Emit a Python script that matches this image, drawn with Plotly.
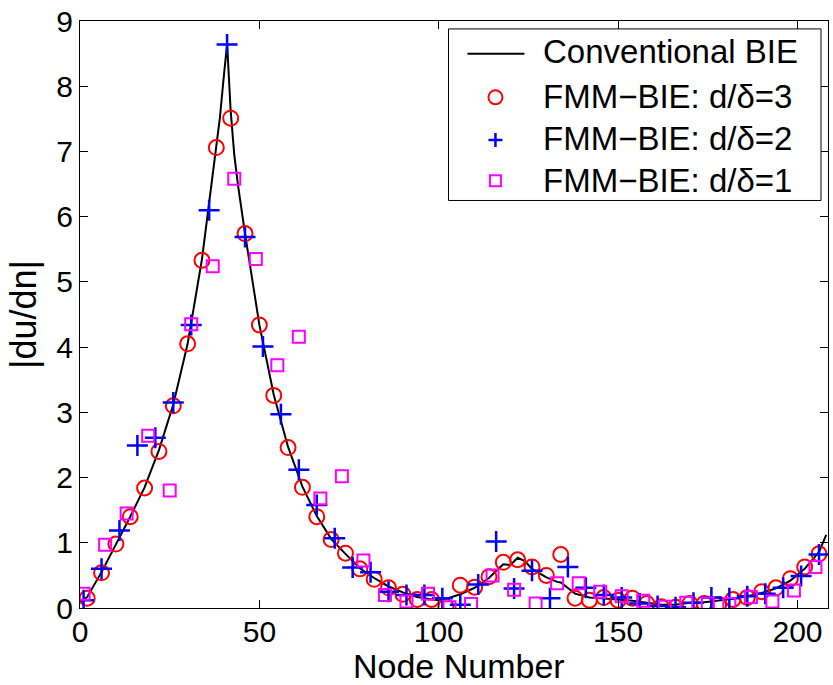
import plotly.graph_objects as go

# Conventional BIE (solid line)
line_x = [0, 2, 6, 10, 14, 18, 22, 26, 30, 34, 38, 39, 40, 41, 42, 43, 44, 46, 50, 54, 58, 62, 66,
          70, 74, 78, 82, 86, 90, 94, 98, 100, 102, 106, 110, 114, 117, 118, 120, 122, 124, 126, 130,
          133, 134, 136, 138, 142, 146, 150, 154, 158, 162, 166, 170, 174, 178, 182, 186, 190, 194,
          198, 202, 206, 208]
line_y = [0.08, 0.17, 0.55, 0.97, 1.40, 1.85, 2.42, 3.12, 4.05, 5.35, 7.05, 7.52, 8.10, 8.65, 7.62,
          6.95, 6.50, 5.74, 4.34, 3.27, 2.47, 1.86, 1.41, 1.06, 0.83, 0.61, 0.46, 0.33, 0.24, 0.17,
          0.13, 0.12, 0.14, 0.21, 0.31, 0.46, 0.62, 0.67, 0.66, 0.77, 0.72, 0.60, 0.47, 0.40, 0.39,
          0.30, 0.22, 0.16, 0.15, 0.13, 0.11, 0.08, 0.05, 0.05, 0.08, 0.09, 0.11, 0.14, 0.18, 0.23,
          0.30, 0.42, 0.60, 0.86, 1.12]

# FMM-BIE d/delta = 3 (red circles)
fmm3_x = [2, 6, 10, 14, 18, 22, 26, 30, 34, 38, 42, 46, 50, 54, 58, 62, 66, 70, 74, 78, 82, 86, 90,
          94, 98, 102, 106, 110, 114, 118, 122, 126, 130, 134, 138, 142, 146, 150, 154, 158, 162,
          166, 170, 174, 178, 182, 186, 190, 194, 198, 202, 206]
fmm3_y = [0.15, 0.54, 0.98, 1.40, 1.84, 2.40, 3.10, 4.05, 5.33, 7.06, 7.51, 5.74, 4.34, 3.26, 2.46,
          1.85, 1.40, 1.05, 0.84, 0.60, 0.44, 0.31, 0.21, 0.13, 0.13, 0.02, 0.35, 0.32, 0.48, 0.70,
          0.74, 0.63, 0.50, 0.82, 0.15, 0.12, 0.16, 0.12, 0.15, 0.07, 0.02, 0.01, 0.07, 0.07, 0.05,
          0.13, 0.16, 0.25, 0.31, 0.45, 0.63, 0.83]

# FMM-BIE d/delta = 2 (blue plus)
fmm2_x = [1, 6, 11, 16, 21, 26, 31, 36, 41, 46, 51, 56, 61, 66, 71, 76, 81, 86, 91, 96, 101, 106,
          111, 116, 121, 126, 131, 136, 141, 146, 151, 156, 161, 166, 171, 176, 181, 186, 191, 196,
          201, 206]
fmm2_y = [0.12, 0.60, 1.19, 2.49, 2.61, 3.15, 4.34, 6.10, 8.64, 5.69, 4.01, 2.97, 2.12, 1.58, 1.07,
          0.62, 0.55, 0.25, 0.20, 0.20, 0.15, 0.05, 0.36, 1.02, 0.30, 0.57, 0.15, 0.63, 0.31, 0.20,
          0.16, 0.07, 0.03, 0.01, 0.08, 0.16, 0.15, 0.18, 0.22, 0.31, 0.49, 0.82]

# FMM-BIE d/delta = 1 (magenta squares)
fmm1_x = [1, 7, 13, 19, 25, 31, 37, 43, 49, 55, 61, 67, 73, 79, 85, 91, 97, 103, 109, 115, 121,
          127, 133, 139, 145, 151, 157, 163, 169, 175, 181, 187, 193, 199, 205]
fmm1_y = [0.22, 0.97, 1.45, 2.64, 1.80, 4.35, 5.24, 6.58, 5.35, 3.72, 4.16, 1.68, 2.02, 0.73, 0.20,
          0.10, 0.22, 0.01, 0.06, 0.50, 0.28, 0.07, 0.38, 0.38, 0.25, 0.18, 0.11, 0.02, 0.08, 0.07,
          0.06, 0.17, 0.10, 0.27, 0.63]

x_ticks = [0, 50, 100, 150, 200]
y_ticks = [0, 1, 2, 3, 4, 5, 6, 7, 8, 9]

x_title = "Node Number"
y_title = "|du/dn|"
legend_names = ["Conventional BIE", "FMM\u2212BIE: d/\u03b4=3",
                "FMM\u2212BIE: d/\u03b4=2", "FMM\u2212BIE: d/\u03b4=1"]

FONT = "Liberation Sans, Arial, sans-serif"
RED, BLUE, MAG = "#ff0000", "#0000ff", "#ff00ff"

W, H = 833, 685
ML, MR, MT, MB = 80, 4, 16, 77
PW, PH = W - ML - MR, H - MT - MB


def px(xpix):
    return (xpix - ML) / PW


def py(ypix):
    return (H - MB - ypix) / PH


fig = go.Figure()
fig.add_trace(go.Scatter(x=line_x, y=line_y, mode="lines", name=legend_names[0],
                         line=dict(color="black", width=2)))
fig.add_trace(go.Scatter(x=fmm3_x, y=fmm3_y, mode="markers", name=legend_names[1],
                         marker=dict(symbol="circle-open", size=15, color=RED,
                                     line=dict(width=2, color=RED))))
fig.add_trace(go.Scatter(x=fmm2_x, y=fmm2_y, mode="markers", name=legend_names[2],
                         marker=dict(symbol="cross-thin-open", size=15, color=BLUE,
                                     line=dict(width=2.5, color=BLUE))))
fig.add_trace(go.Scatter(x=fmm1_x, y=fmm1_y, mode="markers", name=legend_names[3],
                         marker=dict(symbol="square-open", size=12, color=MAG,
                                     line=dict(width=2, color=MAG))))

axis_common = dict(showline=True, linecolor="black", linewidth=1, mirror="ticks",
                   ticks="inside", ticklen=8, tickcolor="black", tickwidth=1,
                   showgrid=False, zeroline=False, ticklabeloverflow="allow",
                   tickfont=dict(family=FONT, size=30, color="black"))

fig.update_xaxes(range=[0, 208.5], tickvals=x_ticks, ticktext=[str(v) for v in x_ticks],
                 ticklabelstandoff=-3, **axis_common)
fig.update_yaxes(range=[0, 9], tickvals=y_ticks, ticktext=[str(v) for v in y_ticks],
                 title=dict(text=y_title, font=dict(family=FONT, size=36, color="black"),
                            standoff=8),
                 **axis_common)

# ---- hand-drawn legend (MATLAB style) ----
shapes = [
    dict(type="rect", xref="paper", yref="paper", x0=px(449), x1=px(822), y0=py(197), y1=py(24),
         fillcolor="white", line=dict(color="black", width=1), layer="above"),
    dict(type="line", xref="paper", yref="paper", x0=px(468), x1=px(525), y0=py(49), y1=py(49),
         line=dict(color="black", width=2), layer="above"),
    dict(type="circle", xref="paper", yref="paper", xsizemode="pixel", ysizemode="pixel",
         xanchor=px(496), yanchor=py(93), x0=-7, x1=7, y0=-7, y1=7,
         line=dict(color=RED, width=2), layer="above"),
    dict(type="path", xref="paper", yref="paper", xsizemode="pixel", ysizemode="pixel",
         xanchor=px(496), yanchor=py(136), path="M-7,0 L7,0 M0,-7 L0,7",
         line=dict(color=BLUE, width=2.5), layer="above"),
    dict(type="rect", xref="paper", yref="paper", xsizemode="pixel", ysizemode="pixel",
         xanchor=px(496), yanchor=py(177), x0=-5.5, x1=5.5, y0=-5.5, y1=5.5,
         line=dict(color=MAG, width=2), layer="above"),
]
row_y = [47, 92, 135, 177]
annotations = [dict(xref="paper", yref="paper", x=px(542), y=py(yy), xanchor="left",
                    yanchor="middle", text=name, showarrow=False,
                    font=dict(family=FONT, size=33, color="black"))
               for name, yy in zip(legend_names, row_y)]
# x-axis title placed as text just below the tick labels
annotations.append(dict(xref="paper", yref="paper", x=px(460), y=py(666), xanchor="center",
                        yanchor="middle", text=x_title, showarrow=False, borderpad=0,
                        font=dict(family=FONT, size=34, color="black")))

fig.update_layout(
    width=W, height=H,
    margin=dict(l=ML, r=MR, t=MT, b=MB),
    paper_bgcolor="white", plot_bgcolor="white",
    font=dict(family=FONT, size=30, color="black"),
    showlegend=False,
    shapes=shapes,
    annotations=annotations,
)

fig.write_html("out.html")
